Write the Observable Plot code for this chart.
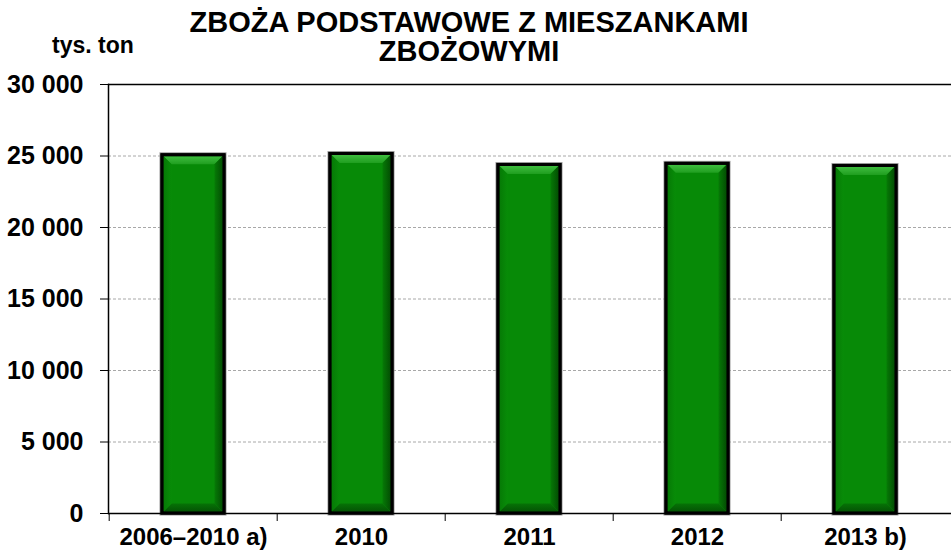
<!DOCTYPE html>
<html>
<head>
<meta charset="utf-8">
<script src="https://cdn.jsdelivr.net/npm/d3@7"></script>
<script src="https://cdn.jsdelivr.net/npm/@observablehq/plot@0.6"></script>
<style>
  html, body { margin: 0; padding: 0; background: #fff; }
  #wrap { position: relative; width: 951px; height: 555px; font-family: "Liberation Sans", Arial, sans-serif; font-weight: bold; }
  #title { position: absolute; left: 0; top: 8px; width: 938px; text-align: center; font-size: 29px; line-height: 29px; color: #000; }
  #unit { position: absolute; left: 52px; top: 32px; font-size: 23px; color: #000; }
  #chart { position: absolute; left: 0; top: 0; }
</style>
</head>
<body>
<div id="wrap">
  <div id="chart"></div>
  <div id="title">ZBOŻA PODSTAWOWE Z MIESZANKAMI<br>ZBOŻOWYMI</div>
  <div id="unit">tys. ton</div>
</div>
<script>
const categories = ["2006–2010 a)", "2010", "2011", "2012", "2013 b)"];
const values = [25050, 25140, 24370, 24450, 24300];
const yTicks = [0, 5000, 10000, 15000, 20000, 25000, 30000];
const yTickLabels = ["0", "5 000", "10 000", "15 000", "20 000", "25 000", "30 000"];
const gridValues = [5000, 10000, 15000, 20000, 25000];

const data = categories.map((c, i) => ({cat: c, value: values[i]}));
const step = (951 - 108) / 5;

const chart = Plot.plot({
  width: 951,
  height: 555,
  marginLeft: 108,
  marginRight: 0,
  marginTop: 84,
  marginBottom: 42,
  style: {fontFamily: "'Liberation Sans', Arial, sans-serif", fontWeight: "bold", color: "#000", background: "transparent"},
  x: {domain: categories, paddingInner: 0.63, paddingOuter: 0.315},
  y: {domain: [0, 30000]},
  marks: [
    Plot.ruleY(gridValues, {stroke: "#a8a8a8", strokeDasharray: "3,2", strokeWidth: 1}),
    Plot.ruleY([30000], {stroke: "#000", strokeWidth: 1.5}),
    Plot.barY(data, {x: "cat", y: "value", fill: "none", stroke: "#9a9a9a", strokeWidth: 5}),
    Plot.barY(data, {x: "cat", y: "value", fill: "#078a07", stroke: "#000", strokeWidth: 3}),
    Plot.ruleY([0], {stroke: "#000", strokeWidth: 1.5}),
    Plot.frame({anchor: "left", stroke: "#000", strokeWidth: 1.5}),
    Plot.axisY({
      ticks: yTicks,
      tickSize: 8,
      tickPadding: 17,
      tickFormat: (d) => yTickLabels[yTicks.indexOf(d)],
      fontSize: 25,
      fontWeight: "bold",
      label: null,
      stroke: "#000"
    }),
    Plot.axisX({tickSize: 0, tickPadding: 14, fontSize: 24, fontWeight: "bold", label: null}),
    Plot.axisX({tickSize: 8, fill: "none", dx: -step / 2, stroke: "#000", label: null})
  ]
});

// bevel decoration derived from the rendered bar rectangles
const ns = "http://www.w3.org/2000/svg";
const defs = document.createElementNS(ns, "defs");
defs.innerHTML = `
  <linearGradient id="gTop" x1="0" y1="0" x2="0" y2="1">
    <stop offset="0" stop-color="#3fbd3f"/>
    <stop offset="1" stop-color="#1f9e1f"/>
  </linearGradient>
  <linearGradient id="gRight" x1="0" y1="0" x2="1" y2="0">
    <stop offset="0" stop-color="#067a06"/>
    <stop offset="1" stop-color="#034f03"/>
  </linearGradient>
  <linearGradient id="gBottom" x1="0" y1="0" x2="0" y2="1">
    <stop offset="0" stop-color="#067306"/>
    <stop offset="1" stop-color="#045404"/>
  </linearGradient>
  <linearGradient id="gLeft" x1="0" y1="0" x2="1" y2="0">
    <stop offset="0" stop-color="#067a06"/>
    <stop offset="1" stop-color="#088c08"/>
  </linearGradient>`;
chart.insertBefore(defs, chart.firstChild);

const barGroups = chart.querySelectorAll('g[aria-label="bar"]');
const mainG = barGroups[1];
const deco = document.createElementNS(ns, "g");
const b = 8;
mainG.querySelectorAll("rect").forEach(r => {
  const x = +r.getAttribute("x"), y = +r.getAttribute("y");
  const w = +r.getAttribute("width"), h = +r.getAttribute("height");
  const x0 = x + 1.5, x1 = x + w - 1.5, y0 = y + 1.5, y1 = y + h - 1.5;
  const polys = [
    [[[x0, y0], [x1, y0], [x1 - b, y0 + b], [x0 + b, y0 + b]], "url(#gTop)"],
    [[[x1, y0], [x1, y1], [x1 - b, y1 - b], [x1 - b, y0 + b]], "url(#gRight)"],
    [[[x0, y1], [x1, y1], [x1 - b, y1 - b], [x0 + b, y1 - b]], "url(#gBottom)"],
    [[[x0, y0], [x0 + b, y0 + b], [x0 + b, y1 - b], [x0, y1]], "url(#gLeft)"]
  ];
  for (const [pts, fill] of polys) {
    const p = document.createElementNS(ns, "polygon");
    p.setAttribute("points", pts.map(q => q.join(",")).join(" "));
    p.setAttribute("fill", fill);
    deco.appendChild(p);
  }
  const o = document.createElementNS(ns, "rect");
  o.setAttribute("x", x); o.setAttribute("y", y);
  o.setAttribute("width", w); o.setAttribute("height", h);
  o.setAttribute("fill", "none"); o.setAttribute("stroke", "#000"); o.setAttribute("stroke-width", 3);
  deco.appendChild(o);
});
mainG.parentNode.insertBefore(deco, mainG.nextSibling);
document.getElementById("chart").appendChild(chart);
</script>
</body>
</html>
